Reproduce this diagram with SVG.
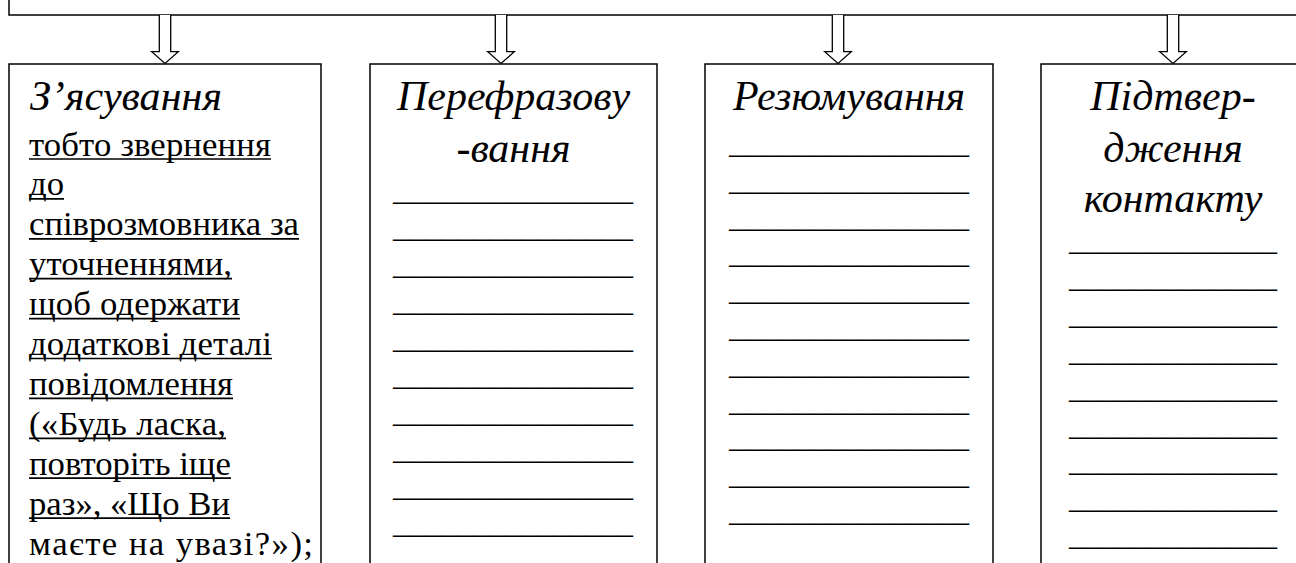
<svg xmlns="http://www.w3.org/2000/svg" width="1296" height="563" viewBox="0 0 1296 563">
<style>
.box{fill:#fff;stroke:#000;stroke-width:1.5}
.arr{fill:#fff;stroke:#000;stroke-width:1.3;stroke-linejoin:miter}
.t{font-family:'Liberation Serif','Times New Roman','DejaVu Serif',serif;fill:#000}
.ttl{font-style:italic;font-size:42px}
.ul{stroke:#000;stroke-width:1.7}
</style>
<rect width="1296" height="563" fill="#fff"/>
<g id="top-box"><rect class="box" x="9" y="-20" width="1400" height="35"/></g>
<g id="connectors">
<path class="arr" d="M159.3,15 V51.7 H151.7 L165,63.5 L178.3,51.7 H170.7 V15"/>
<path class="arr" d="M495.3,15 V51.7 H487.7 L501,63.5 L514.3,51.7 H506.7 V15"/>
<path class="arr" d="M832.3,15 V51.7 H824.7 L838,63.5 L851.3,51.7 H843.7 V15"/>
<path class="arr" d="M1167.3,15 V51.7 H1159.7 L1173,63.5 L1186.3,51.7 H1178.7 V15"/>
</g>
<g class="t">
<g id="node-1">
<rect class="box" x="9" y="64" width="312" height="520"/>
<text class="ttl" x="30" y="110" textLength="192" lengthAdjust="spacing">З’ясування</text>
<g font-size="34.7" lengthAdjust="spacing">
<text x="29" y="155.5" textLength="242">тобто звернення</text>
<text x="29" y="195.4" textLength="35">до</text>
<text x="29" y="235.3" textLength="270">співрозмовника за</text>
<text x="29" y="275.2" textLength="203">уточненнями,</text>
<text x="29" y="315.1" textLength="211">щоб одержати</text>
<text x="29" y="355" textLength="243">додаткові деталі</text>
<text x="29" y="394.9" textLength="204">повідомлення</text>
<text x="29" y="434.8" textLength="197">(«Будь ласка,</text>
<text x="29" y="474.7" textLength="202">повторіть іще</text>
<text x="29" y="514.6" textLength="201">раз», «Що Ви</text>
<text x="29" y="554.5" textLength="284">маєте на увазі?»);</text>
</g>
<g class="ul">
<line x1="29" y1="159" x2="271" y2="159"/>
<line x1="29" y1="198.9" x2="64" y2="198.9"/>
<line x1="29" y1="238.8" x2="299" y2="238.8"/>
<line x1="29" y1="278.7" x2="232" y2="278.7"/>
<line x1="29" y1="318.6" x2="240" y2="318.6"/>
<line x1="29" y1="358.5" x2="272" y2="358.5"/>
<line x1="29" y1="398.4" x2="233" y2="398.4"/>
<line x1="29" y1="438.3" x2="226" y2="438.3"/>
<line x1="29" y1="478.2" x2="231" y2="478.2"/>
<line x1="29" y1="518.1" x2="230" y2="518.1"/>
</g>
</g>
<g id="node-2">
<rect class="box" x="370" y="64" width="287" height="520"/>
<text class="ttl" x="513.5" y="110" text-anchor="middle">Перефразову</text>
<text class="ttl" x="513.5" y="162" text-anchor="middle">-вання</text>
<g font-size="32" text-anchor="middle">
<text x="513" y="200">_______________</text>
<text x="513" y="237">_______________</text>
<text x="513" y="274">_______________</text>
<text x="513" y="311">_______________</text>
<text x="513" y="348">_______________</text>
<text x="513" y="385">_______________</text>
<text x="513" y="422">_______________</text>
<text x="513" y="459">_______________</text>
<text x="513" y="496">_______________</text>
<text x="513" y="533">_______________</text>
</g>
</g>
<g id="node-3">
<rect class="box" x="705" y="64" width="288" height="520"/>
<text class="ttl" x="849" y="110" text-anchor="middle">Резюмування</text>
<g font-size="32" text-anchor="middle">
<text x="849" y="153">_______________</text>
<text x="849" y="189.8">_______________</text>
<text x="849" y="226.6">_______________</text>
<text x="849" y="263.4">_______________</text>
<text x="849" y="300.2">_______________</text>
<text x="849" y="337">_______________</text>
<text x="849" y="373.8">_______________</text>
<text x="849" y="410.6">_______________</text>
<text x="849" y="447.4">_______________</text>
<text x="849" y="484.2">_______________</text>
<text x="849" y="521">_______________</text>
</g>
</g>
<g id="node-4">
<rect class="box" x="1041" y="64" width="264" height="520"/>
<text class="ttl" x="1173" y="110" text-anchor="middle">Підтвер-</text>
<text class="ttl" x="1173" y="162" text-anchor="middle">дження</text>
<text class="ttl" x="1173" y="212" text-anchor="middle">контакту</text>
<g font-size="32" text-anchor="middle">
<text x="1173" y="250">_____________</text>
<text x="1173" y="286.9">_____________</text>
<text x="1173" y="323.8">_____________</text>
<text x="1173" y="360.7">_____________</text>
<text x="1173" y="397.6">_____________</text>
<text x="1173" y="434.5">_____________</text>
<text x="1173" y="471.4">_____________</text>
<text x="1173" y="508.3">_____________</text>
<text x="1173" y="545.2">_____________</text>
</g>
</g>
</g>
</svg>
